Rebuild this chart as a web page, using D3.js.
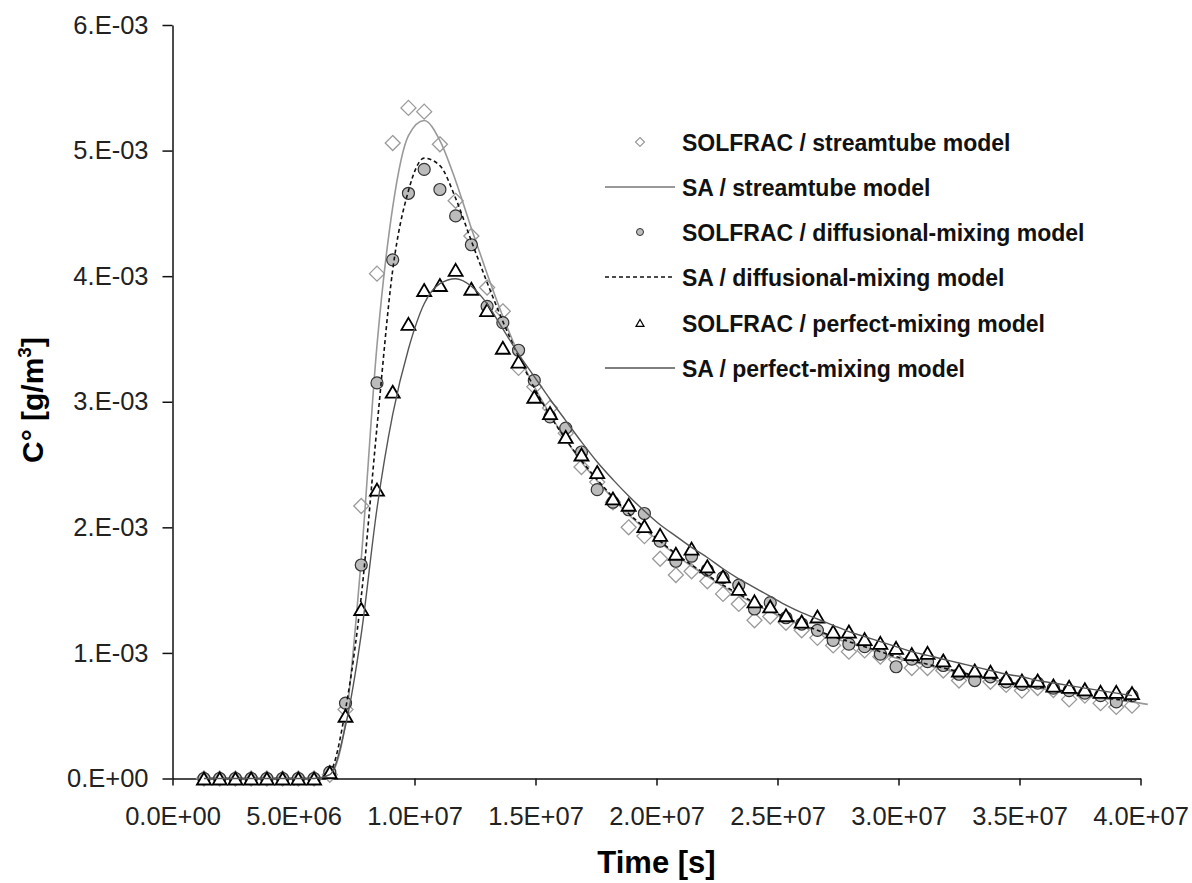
<!DOCTYPE html>
<html>
<head>
<meta charset="utf-8">
<script src="https://cdn.jsdelivr.net/npm/d3@7"></script>
<style>
  body { margin: 0; background: #fff; }
  svg { display: block; font-family: "Liberation Sans", Arial, sans-serif; }
</style>
</head>
<body>
<svg id="chart" width="1192" height="883"></svg>
<script>
// time in units of 1E+06 s, concentration in units of 1E-03 g/m3
const timeE6 = [1.30, 1.95, 2.60, 3.25, 3.90, 4.55, 5.20, 5.85, 6.50, 7.15,
  7.80, 8.45, 9.10, 9.75, 10.40, 11.05, 11.70, 12.35, 13.00, 13.65,
  14.30, 14.95, 15.60, 16.25, 16.90, 17.55, 18.20, 18.85, 19.50, 20.15,
  20.80, 21.45, 22.10, 22.75, 23.40, 24.05, 24.70, 25.35, 26.00, 26.65,
  27.30, 27.95, 28.60, 29.25, 29.90, 30.55, 31.20, 31.85, 32.50, 33.15,
  33.80, 34.45, 35.10, 35.75, 36.40, 37.05, 37.70, 38.35, 39.00, 39.65,
  40.30];

// SOLFRAC results (markers)
const solfracStreamtube = [0, 0, 0, 0, 0, 0, 0, 0, 0.03, 0.55,
  2.17, 4.02, 5.06, 5.34, 5.31, 5.05, 4.60, 4.32, 3.91, 3.72,
  3.27, 3.12, 2.95, 2.75, 2.48, 2.36, 2.20, 2.00, 1.93, 1.75,
  1.62, 1.65, 1.57, 1.47, 1.39, 1.26, 1.29, 1.24, 1.18, 1.12,
  1.06, 1.01, 1.02, 0.97, 0.95, 0.88, 0.88, 0.86, 0.78, 0.80,
  0.77, 0.745, 0.70, 0.72, 0.705, 0.63, 0.66, 0.60, 0.57, 0.58];

const solfracDiffusional = [0, 0, 0, 0, 0, 0, 0, 0, 0.05, 0.60,
  1.70, 3.15, 4.13, 4.66, 4.85, 4.69, 4.48, 4.25, 3.76, 3.63,
  3.41, 3.17, 2.88, 2.79, 2.60, 2.30, 2.20, 2.14, 2.11, 1.89,
  1.73, 1.77, 1.66, 1.60, 1.54, 1.35, 1.40, 1.28, 1.23, 1.18,
  1.10, 1.07, 1.05, 0.99, 0.89, 0.95, 0.93, 0.90, 0.83, 0.78,
  0.81, 0.77, 0.75, 0.76, 0.72, 0.70, 0.68, 0.66, 0.61, 0.66];

const solfracPerfect = [0, 0, 0, 0, 0, 0, 0, 0, 0.05, 0.50,
  1.35, 2.30, 3.08, 3.62, 3.89, 3.93, 4.05, 3.90, 3.73, 3.43,
  3.32, 3.04, 2.91, 2.72, 2.58, 2.44, 2.23, 2.18, 2.01, 1.94,
  1.79, 1.83, 1.69, 1.61, 1.51, 1.41, 1.37, 1.30, 1.25, 1.29,
  1.17, 1.17, 1.11, 1.08, 1.04, 0.99, 1.00, 0.94, 0.86, 0.86,
  0.85, 0.80, 0.78, 0.78, 0.74, 0.73, 0.71, 0.69, 0.69, 0.68];

// SA results (lines)
const saStreamtube = [0, 0, 0, 0, 0, 0, 0, 0, 0.03, 0.45,
  1.75, 3.45, 4.55, 5.12, 5.24, 5.08, 4.76, 4.38, 4.02, 3.68,
  3.38, 3.12, 2.90, 2.70, 2.52, 2.37, 2.23, 2.10, 1.99, 1.88,
  1.78, 1.69, 1.61, 1.53, 1.46, 1.39, 1.33, 1.27, 1.22, 1.17,
  1.12, 1.08, 1.04, 1.00, 0.96, 0.93, 0.90, 0.87, 0.84, 0.81,
  0.79, 0.76, 0.74, 0.72, 0.70, 0.68, 0.66, 0.64, 0.62, 0.61,
  0.59];

const saDiffusional = [0, 0, 0, 0, 0, 0, 0, 0, 0.05, 0.55,
  1.45, 2.80, 4.05, 4.68, 4.94, 4.88, 4.62, 4.28, 3.95, 3.64,
  3.36, 3.11, 2.89, 2.70, 2.53, 2.38, 2.24, 2.11, 2.00, 1.89,
  1.79, 1.70, 1.62, 1.54, 1.47, 1.40, 1.34, 1.28, 1.23, 1.18,
  1.13, 1.09, 1.05, 1.01, 0.97, 0.94, 0.91, 0.88, 0.85, 0.82,
  0.80, 0.77, 0.75, 0.73, 0.71, 0.69, 0.67, 0.65, 0.63, 0.62];

const saPerfect = [0, 0, 0, 0, 0, 0, 0, 0, 0.03, 0.42,
  1.15, 2.15, 2.90, 3.42, 3.78, 3.94, 3.98, 3.92, 3.78, 3.58,
  3.38, 3.20, 3.02, 2.85, 2.68, 2.52, 2.38, 2.25, 2.13, 2.02,
  1.93, 1.84, 1.76, 1.67, 1.59, 1.52, 1.45, 1.38, 1.32, 1.27,
  1.22, 1.17, 1.13, 1.09, 1.05, 1.01, 0.98, 0.95, 0.92, 0.89,
  0.86, 0.83, 0.81, 0.78, 0.76, 0.74, 0.72, 0.70, 0.68, 0.66];

const xTickValues = [0, 5, 10, 15, 20, 25, 30, 35, 40];
const xTickLabels = ['0.0E+00', '5.0E+06', '1.0E+07', '1.5E+07', '2.0E+07',
  '2.5E+07', '3.0E+07', '3.5E+07', '4.0E+07'];
const yTickValues = [0, 1, 2, 3, 4, 5, 6];
const yTickLabels = ['0.E+00', '1.E-03', '2.E-03', '3.E-03', '4.E-03', '5.E-03', '6.E-03'];

const legendLabels = [
  'SOLFRAC / streamtube model',
  'SA / streamtube model',
  'SOLFRAC / diffusional-mixing model',
  'SA / diffusional-mixing model',
  'SOLFRAC / perfect-mixing model',
  'SA / perfect-mixing model'
];

// layout
const svg = d3.select('#chart');
const plotLeft = 172.5, plotRight = 1140.5, plotTop = 25, plotBottom = 778.5;

const x = d3.scaleLinear().domain([0, 40]).range([plotLeft, plotRight]);
const y = d3.scaleLinear().domain([0, 6]).range([plotBottom, plotTop]);

const toPoints = vals => vals.map((v, i) => [timeE6[i], v]);

// axes
const xAxis = svg.append('g')
  .attr('transform', `translate(0,${plotBottom})`)
  .call(d3.axisBottom(x).tickValues(xTickValues)
    .tickFormat((d, i) => xTickLabels[i])
    .tickSize(7).tickSizeOuter(0).tickPadding(21));

const yAxis = svg.append('g')
  .attr('transform', `translate(${plotLeft},0)`)
  .call(d3.axisLeft(y).tickValues(yTickValues)
    .tickFormat((d, i) => yTickLabels[i])
    .tickSize(10).tickSizeOuter(0).tickPadding(14));

[xAxis, yAxis].forEach(g => {
  g.selectAll('path, line').attr('stroke', '#111').attr('stroke-width', 1.5);
  g.selectAll('text').attr('fill', '#222').attr('font-size', 25.5)
    .attr('font-family', '"Liberation Sans", Arial, sans-serif');
});

// axis titles
svg.append('text')
  .attr('x', (plotLeft + plotRight) / 2).attr('y', 873)
  .attr('text-anchor', 'middle')
  .attr('font-size', 31).attr('font-weight', 'bold')
  .text('Time [s]');

const yTitle = svg.append('text')
  .attr('transform', 'translate(43,400) rotate(-90)')
  .attr('text-anchor', 'middle')
  .attr('font-size', 30).attr('font-weight', 'bold');
yTitle.append('tspan').text('C° [g/m');
yTitle.append('tspan').attr('font-size', 19).attr('dy', -12).text('3');
yTitle.append('tspan').attr('dy', 12).text(']');

// marker shapes
const diamond = s => `M0,${-s}L${s},0L0,${s}L${-s},0Z`;
const triangle = s => `M0,${-s * 0.86}L${s},${s * 0.86}L${-s},${s * 0.86}Z`;

const line = d3.line()
  .x(d => x(d[0])).y(d => y(d[1]))
  .curve(d3.curveMonotoneX);

const plot = svg.append('g');

// draw in the series order (later ones on top)
plot.append('g').selectAll('path')
  .data(toPoints(solfracStreamtube))
  .join('path')
  .attr('transform', d => `translate(${x(d[0])},${y(d[1])})`)
  .attr('d', diamond(7.5))
  .attr('fill', '#fff').attr('stroke', '#9a9a9a').attr('stroke-width', 1.3);

plot.append('path')
  .datum(toPoints(saStreamtube))
  .attr('d', line)
  .attr('fill', 'none').attr('stroke', '#999').attr('stroke-width', 1.6);

plot.append('g').selectAll('circle')
  .data(toPoints(solfracDiffusional))
  .join('circle')
  .attr('cx', d => x(d[0])).attr('cy', d => y(d[1]))
  .attr('r', 6)
  .attr('fill', '#bcbcbc').attr('stroke', '#333').attr('stroke-width', 1.2);

plot.append('path')
  .datum(toPoints(saDiffusional))
  .attr('d', line)
  .attr('fill', 'none').attr('stroke', '#111').attr('stroke-width', 1.6)
  .attr('stroke-dasharray', '4,3');

plot.append('g').selectAll('path')
  .data(toPoints(solfracPerfect))
  .join('path')
  .attr('transform', d => `translate(${x(d[0])},${y(d[1])})`)
  .attr('d', triangle(7))
  .attr('fill', '#fff').attr('stroke', '#000').attr('stroke-width', 1.8);

plot.append('path')
  .datum(toPoints(saPerfect))
  .attr('d', line)
  .attr('fill', 'none').attr('stroke', '#555').attr('stroke-width', 1.4);

// legend
const legend = svg.append('g');
const legendY = [142, 187, 232, 277, 323, 368];
const legendX = 640;

legendLabels.forEach((label, i) => {
  const g = legend.append('g').attr('transform', `translate(0,${legendY[i]})`);
  if (i === 0) {
    g.append('path').attr('transform', `translate(${legendX},0)`).attr('d', diamond(4.5))
      .attr('fill', '#fff').attr('stroke', '#9a9a9a').attr('stroke-width', 1.2);
  } else if (i === 2) {
    g.append('circle').attr('cx', legendX).attr('r', 3.5)
      .attr('fill', '#bcbcbc').attr('stroke', '#333').attr('stroke-width', 1);
  } else if (i === 4) {
    g.append('path').attr('transform', `translate(${legendX},0)`).attr('d', triangle(4))
      .attr('fill', '#fff').attr('stroke', '#000').attr('stroke-width', 1.2);
  } else {
    const seg = g.append('line').attr('x1', 605).attr('x2', 675);
    if (i === 1) seg.attr('stroke', '#999').attr('stroke-width', 1.8);
    if (i === 3) seg.attr('stroke', '#111').attr('stroke-width', 1.6).attr('stroke-dasharray', '4,3');
    if (i === 5) seg.attr('stroke', '#555').attr('stroke-width', 1.6);
  }
  g.append('text')
    .attr('x', 682).attr('y', 8.5)
    .attr('font-size', 23).attr('font-weight', 'bold').attr('fill', '#111')
    .text(label);
});
</script>
</body>
</html>
